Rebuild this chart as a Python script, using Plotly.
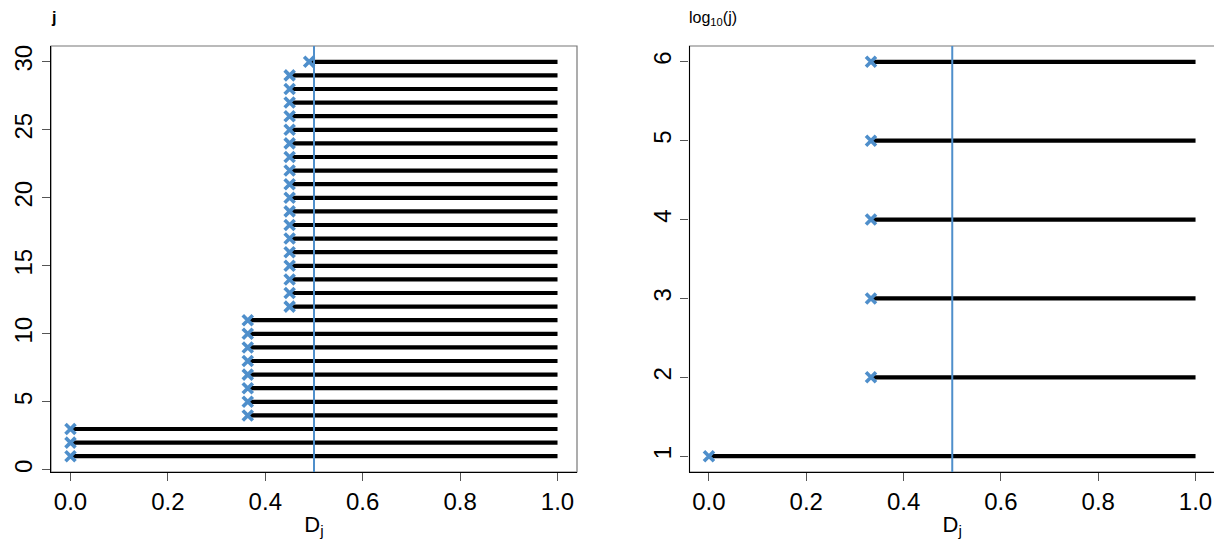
import plotly.graph_objects as go

# ---- data ----
j_left = [1, 2, 3, 4, 5, 6, 7, 8, 9, 10, 11, 12, 13, 14, 15, 16, 17, 18, 19, 20,
          21, 22, 23, 24, 25, 26, 27, 28, 29, 30]
D_left = [0.0, 0.0, 0.0,
          0.364, 0.364, 0.364, 0.364, 0.364, 0.364, 0.364, 0.364,
          0.45, 0.45, 0.45, 0.45, 0.45, 0.45, 0.45, 0.45, 0.45, 0.45,
          0.45, 0.45, 0.45, 0.45, 0.45, 0.45, 0.45, 0.45,
          0.49]
log_j_right = [1, 2, 3, 4, 5, 6]
D_right = [0.0, 0.333, 0.333, 0.333, 0.333, 0.333]
D_end = 1.0
threshold = 0.5

left_yticks = [0, 5, 10, 15, 20, 25, 30]
right_yticks = [1, 2, 3, 4, 5, 6]
xticks = [0.0, 0.2, 0.4, 0.6, 0.8, 1.0]
xticklabels = ["0.0", "0.2", "0.4", "0.6", "0.8", "1.0"]

BLUE = "#4F8FCB"
FONT = "Liberation Sans"
OFF = 8                      # default page body margin
W, H = 1222 - OFF, 546 - OFF


def px_x(p):
    return (p - OFF) / W


def px_y(p):
    return 1 - (p - OFF) / H


def seg_xy(d, y):
    xs, ys = [], []
    for dv, yv in zip(d, y):
        xs += [dv, D_end, None]
        ys += [yv, yv, None]
    return xs, ys


fig = go.Figure()

for d, y, xa, ya in [(D_left, j_left, "x", "y"), (D_right, log_j_right, "x2", "y2")]:
    xs, ys = seg_xy(d, y)
    fig.add_trace(go.Scatter(x=xs, y=ys, mode="lines", xaxis=xa, yaxis=ya,
                             line=dict(color="black", width=4.2), showlegend=False,
                             hoverinfo="skip"))
    fig.add_trace(go.Scatter(x=d, y=y, mode="markers", xaxis=xa, yaxis=ya,
                             marker=dict(symbol="x-thin", size=10,
                                         line=dict(color=BLUE, width=3.6)),
                             showlegend=False))

xl = [px_x(51), px_x(577)]
xr = [px_x(689.5), px_x(1215)]
yd = [px_y(472), px_y(46)]


def ax_common():
    return dict(showgrid=False, zeroline=False, showline=True, linecolor="black",
                linewidth=1.2, ticks="outside", ticklen=8, tickcolor="#555",
                tickwidth=1.2, tickfont=dict(family=FONT, size=24, color="black"),
                automargin=False, mirror=False)


fig.update_layout(
    width=W, height=H, margin=dict(l=0, r=0, t=0, b=0),
    plot_bgcolor="white", paper_bgcolor="white",
    font=dict(family=FONT, color="black"),
    xaxis=dict(domain=xl, range=[-0.04, 1.04], tickvals=xticks, ticktext=xticklabels,
               anchor="y", title=dict(text="D<sub>j</sub>", font=dict(size=22), standoff=2),
               **ax_common()),
    yaxis=dict(domain=yd, range=[-0.16, 31.16], tickvals=left_yticks, tickangle=-90,
               anchor="x", **ax_common()),
    xaxis2=dict(domain=xr, range=[-0.04, 1.04], tickvals=xticks, ticktext=xticklabels,
                anchor="y2", title=dict(text="D<sub>j</sub>", font=dict(size=22), standoff=2),
                **ax_common()),
    yaxis2=dict(domain=yd, range=[0.8, 6.2], tickvals=right_yticks, tickangle=-90,
                anchor="x2", **ax_common()),
)

# box borders (grey) and threshold lines
for xref, yref in [("x", "y"), ("x2", "y2")]:
    fig.add_shape(type="rect", xref=f"{xref} domain", yref=f"{yref} domain",
                  x0=0, x1=1, y0=0, y1=1, line=dict(color="#777", width=1.2), layer="below")
    fig.add_shape(type="line", xref=xref, yref=f"{yref} domain", x0=threshold, x1=threshold,
                  y0=0, y1=1, line=dict(color=BLUE, width=2), layer="above")

fig.add_annotation(text="<b>j</b>", xref="paper", yref="paper", x=px_x(50), y=1,
                   xanchor="left", yanchor="top", showarrow=False, borderpad=0,
                   font=dict(family=FONT, size=16, color="black"))
fig.add_annotation(text="log<sub>10</sub>(j)", xref="paper", yref="paper", x=px_x(688),
                   y=1, xanchor="left", yanchor="top", showarrow=False, borderpad=0,
                   font=dict(family=FONT, size=16, color="black"))

fig.write_html("out.html")
